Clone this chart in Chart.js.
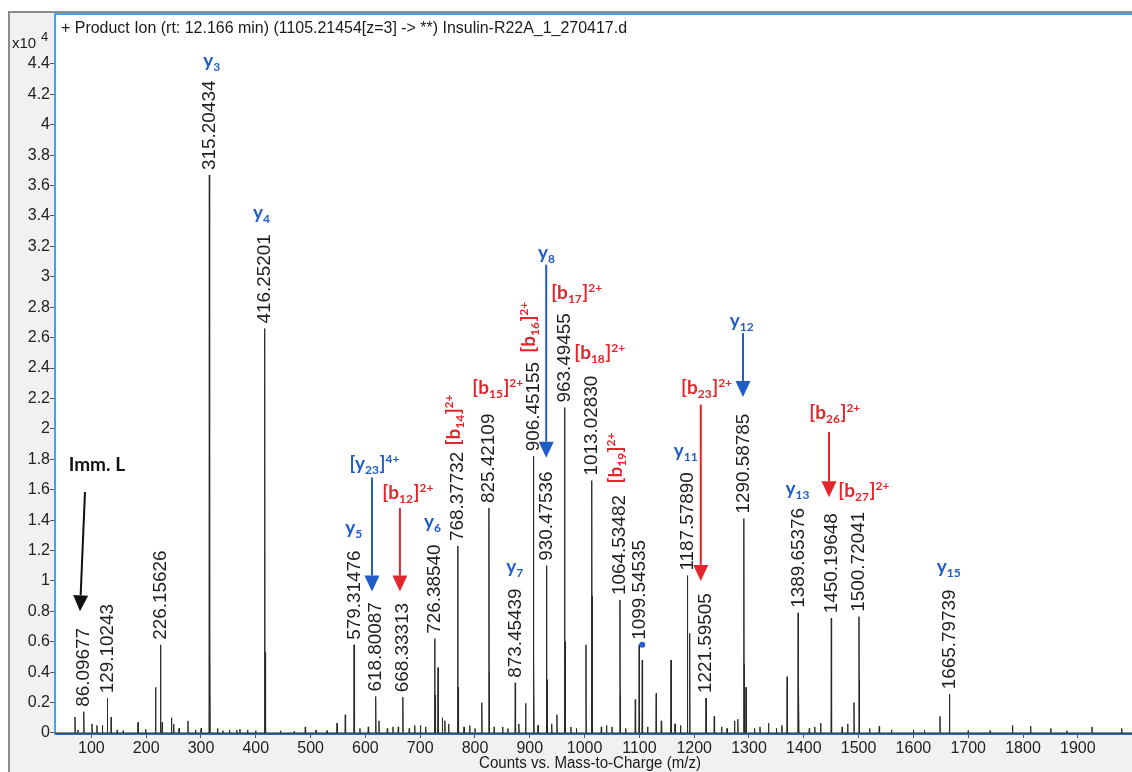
<!DOCTYPE html>
<html><head><meta charset="utf-8">
<script src="https://cdn.jsdelivr.net/npm/chart.js@4/dist/chart.umd.min.js"></script>
<style>html,body{margin:0;padding:0;background:#fff;}canvas{display:block;}</style>
</head><body>
<canvas id="c" width="1132" height="772"></canvas>
<script>
// ---------- data (intensity in counts x10^4, m/z) ----------
const labeledMz  = [86.09677,129.10243,226.15626,315.20434,416.25201,579.31476,618.80087,668.33313,726.38540,768.37732,825.42109,873.45439,906.45155,930.47536,963.49455,1013.02830,1064.53482,1099.54535,1187.57890,1221.59505,1290.58785,1389.65376,1450.19648,1500.72041,1665.79739];
const labeledInt = [0.14,0.228,0.58,3.67,2.66,0.58,0.24,0.235,0.62,1.23,1.48,0.33,1.82,1.10,2.14,1.66,0.875,0.58,1.035,0.23,1.41,0.79,0.755,0.765,0.255];
const labeledText = ['86.09677','129.10243','226.15626','315.20434','416.25201','579.31476','618.80087','668.33313','726.38540','768.37732','825.42109','873.45439','906.45155','930.47536','963.49455','1013.02830','1064.53482','1099.54535','1187.57890','1221.59505','1290.58785','1389.65376','1450.19648','1500.72041','1665.79739'];

const minorMz  = [70.07,75.5,101.07,110.07,120.08,136.08,147.11,158,185.13,199.1,217.13,229.2,246.1,250.2,260,276.2,290,300.2,316.2,330.2,340,352,365,371,385,400,417.25,445,470,490.3,510,530,548.3,563.3,580.3,590,605.3,624.8,640,650.3,660,680,690,700.4,710,727.4,732.6,740.4,745,752,769.4,780,790.4,800,812.4,826.4,835,850.4,860,880,892.4,907.45,915,931.5,940,949.5,964.5,975,985,1002.5,1013.53,1030.5,1040,1050,1065.5,1075,1092.5,1105.2,1115,1130.6,1140,1157.7,1165,1175,1191.8,1236.6,1250,1260,1273.6,1279.6,1291.6,1294.6,1310,1320,1335.6,1350,1360,1369.6,1390.65,1410,1420,1430.7,1450.7,1470,1480,1491.6,1501.7,1520,1537.7,1560,1600,1620,1648.5,1700,1740,1780.8,1813.8,1850.8,1880,1925.9,1979.9];
const minorInt = [0.105,0.02,0.06,0.05,0.05,0.105,0.02,0.015,0.07,0.025,0.30,0.07,0.10,0.06,0.03,0.08,0.02,0.03,0.66,0.03,0.015,0.02,0.02,0.025,0.02,0.015,0.53,0.015,0.01,0.04,0.02,0.015,0.065,0.12,0.20,0.03,0.04,0.08,0.03,0.04,0.04,0.03,0.05,0.05,0.04,0.25,0.43,0.10,0.08,0.06,0.30,0.04,0.05,0.03,0.20,0.40,0.04,0.04,0.03,0.06,0.195,0.50,0.05,0.35,0.06,0.12,0.60,0.04,0.03,0.58,0.90,0.04,0.05,0.04,0.25,0.03,0.22,0.48,0.04,0.26,0.08,0.48,0.06,0.05,0.656,0.11,0.04,0.03,0.08,0.09,0.45,0.30,0.03,0.04,0.065,0.03,0.05,0.37,0.30,0.03,0.04,0.065,0.30,0.04,0.06,0.20,0.35,0.03,0.045,0.02,0.02,0.02,0.11,0.015,0.015,0.05,0.045,0.03,0.015,0.04,0.03];

const precursorMz = [1105.21454];
const precursorInt = [0.58];

const ionText = ['y_{3}','y_{4}','y_{5}','[y_{23}]^{4+}','[b_{12}]^{2+}','y_{6}','[b_{14}]^{2+}','[b_{15}]^{2+}','[b_{16}]^{2+}','y_{8}','[b_{17}]^{2+}','[b_{18}]^{2+}','y_{7}','[b_{19}]^{2+}','y_{11}','[b_{23}]^{2+}','y_{12}','y_{13}','[b_{26}]^{2+}','[b_{27}]^{2+}','y_{15}','Imm. L'];
const ionMz  = [320,411,579,617,678,723,763,842,900,931,986,1028,873,1059,1185,1223,1287,1389,1457,1510,1665,110];
const ionInt = [4.41,3.41,1.34,1.76,1.57,1.38,2.06,2.26,2.67,3.15,2.89,2.49,1.085,1.81,1.85,2.26,2.70,1.60,2.10,1.585,1.085,1.757];
const ionRotated = [0,0,0,0,0,0,1,0,1,0,0,0,0,1,0,0,0,0,0,0,0,0];
const ionKind = ['y','y','y','y','b','y','b','b','b','y','b','b','y','b','y','b','y','y','b','b','y','k'];

const arrowMzFrom  = [88.3,612,663,930,1212,1289,1446];
const arrowMzTo    = [79.2,612,663,930,1212,1289,1446];
const arrowIntFrom = [1.585,1.68,1.48,3.08,2.16,2.63,1.98];
const arrowIntTo   = [0.80,0.93,0.93,1.81,1.0,2.21,1.55];
const arrowKind    = ['k','y','b','y','b','y','b'];

const xTicks = [100,200,300,400,500,600,700,800,900,1000,1100,1200,1300,1400,1500,1600,1700,1800,1900];
const yTicks = [0,0.2,0.4,0.6,0.8,1,1.2,1.4,1.6,1.8,2,2.2,2.4,2.6,2.8,3,3.2,3.4,3.6,3.8,4,4.2,4.4];
const yTickLabels = ['0','0.2','0.4','0.6','0.8','1','1.2','1.4','1.6','1.8','2','2.2','2.4','2.6','2.8','3','3.2','3.4','3.6','3.8','4','4.2','4.4'];

const titleText = '+ Product Ion (rt: 12.166 min) (1105.21454[z=3] -> **) Insulin-R22A_1_270417.d';
const xTitle = 'Counts vs. Mass-to-Charge (m/z)';

// ---------- build spectrum ----------
const allPeaks = labeledMz.map((m,i)=>[m,labeledInt[i]]).concat(minorMz.map((m,i)=>[m,minorInt[i]])).sort((a,b)=>a[0]-b[0]);
const X_MIN = 33.6, X_MAX = 1998.9, Y_MIN = -0.0066, Y_MAX = 4.735;
const spectrum = [{x:X_MIN,y:0}];
allPeaks.forEach(([m,h])=>{ spectrum.push({x:m-0.6,y:0},{x:m,y:h},{x:m+0.6,y:0}); });
spectrum.push({x:X_MAX,y:0});

const NARROW = "'Liberation Sans Narrow','Liberation Sans',Arial,sans-serif";
const SANS = "'Liberation Sans',Arial,sans-serif";
const ION = "Lato,'Open Sans',sans-serif";
const COL = {y:'#1f5cc8', b:'#e3262b', k:'#111111'};

function parseMarkup(s){
  const segs=[]; let i=0, buf='';
  while(i<s.length){
    if((s[i]==='_'||s[i]==='^') && s[i+1]==='{'){
      if(buf){segs.push({t:buf,k:'n'});buf='';}
      const end=s.indexOf('}',i);
      segs.push({t:s.slice(i+2,end),k:s[i]==='_'?'sub':'sup'});
      i=end+1;
    } else { buf+=s[i]; i++; }
  }
  if(buf) segs.push({t:buf,k:'n'});
  return segs;
}

function drawIon(ctx, text, cx, cy, rotated, color){
  const segs=parseMarkup(text);
  const fN='bold 19px '+ION, fS='bold 12px '+ION;
  let w=0;
  segs.forEach(s=>{ctx.font=s.k==='n'?fN:fS; s.w=ctx.measureText(s.t).width; w+=s.w+(s.k==='n'?0:0.5);});
  ctx.save();
  ctx.translate(cx,cy);
  if(rotated) ctx.rotate(-Math.PI/2);
  ctx.fillStyle=color; ctx.textBaseline='alphabetic'; ctx.textAlign='left';
  let x=-w/2; const base=5;
  segs.forEach(s=>{
    ctx.font=s.k==='n'?fN:fS;
    const dy = s.k==='sub'?4:(s.k==='sup'?-7:0);
    ctx.fillText(s.t,x,base+dy);
    x+=s.w+(s.k==='n'?0:0.5);
  });
  ctx.restore();
}

const decor = {
  id:'decor',
  beforeDraw(chart){
    const ctx=chart.ctx, a=chart.chartArea, W=chart.width, H=chart.height;
    ctx.save();
    ctx.fillStyle='#ffffff'; ctx.fillRect(0,0,W,H);
    ctx.fillStyle='#f1f1f1'; ctx.fillRect(8,12,W-8,H-12);
    ctx.strokeStyle='#8c8c8c'; ctx.lineWidth=2;
    ctx.beginPath(); ctx.moveTo(9,H); ctx.lineTo(9,12); ctx.lineTo(W,12); ctx.stroke();
    ctx.fillStyle='#ffffff'; ctx.fillRect(a.left,a.top,W-a.left,a.bottom-a.top);
    ctx.strokeStyle='#4aa0ea'; ctx.lineWidth=2;
    ctx.beginPath(); ctx.moveTo(a.left,a.top+1); ctx.lineTo(W,a.top+1); ctx.stroke();
    ctx.restore();
  },
  afterDraw(chart){
    const ctx=chart.ctx, xs=chart.scales.x, ys=chart.scales.y;
    ctx.save();
    // title
    ctx.fillStyle='#1a1a1a'; ctx.textBaseline='middle'; ctx.textAlign='left';
    ctx.font='16px '+NARROW;
    ctx.fillText(titleText,61,29,566);
    // exponent
    ctx.font='15px '+NARROW; ctx.fillText('x10',12,44,26);
    ctx.font='13px '+NARROW; ctx.fillText('4',41,37);
    // x title
    ctx.font='16px '+NARROW; ctx.textAlign='center';
    ctx.fillText(xTitle,590,764,222);
    // peak labels
    ctx.font='18px '+SANS; ctx.fillStyle='#1e1e1e';
    labeledMz.forEach((m,i)=>{
      const px=xs.getPixelForValue(m), py=ys.getPixelForValue(labeledInt[i]);
      ctx.save(); ctx.translate(px+0.5,py-5); ctx.rotate(-Math.PI/2); ctx.scale(1.05,1);
      ctx.textAlign='left'; ctx.textBaseline='middle';
      ctx.fillText(labeledText[i],0,0); ctx.restore();
    });
    // arrows
    arrowMzFrom.forEach((m,i)=>{
      const x1=xs.getPixelForValue(m), y1=ys.getPixelForValue(arrowIntFrom[i]);
      const x2=xs.getPixelForValue(arrowMzTo[i]), y2=ys.getPixelForValue(arrowIntTo[i]);
      const c=COL[arrowKind[i]];
      const ang=Math.atan2(y2-y1,x2-x1), L=16, hw=7.5;
      const bx=x2-L*Math.cos(ang), by=y2-L*Math.sin(ang);
      ctx.strokeStyle=c; ctx.fillStyle=c; ctx.lineWidth=2;
      ctx.beginPath(); ctx.moveTo(x1,y1); ctx.lineTo(bx,by); ctx.stroke();
      ctx.beginPath(); ctx.moveTo(x2,y2);
      ctx.lineTo(bx+hw*Math.sin(ang),by-hw*Math.cos(ang));
      ctx.lineTo(bx-hw*Math.sin(ang),by+hw*Math.cos(ang));
      ctx.closePath(); ctx.fill();
    });
    // ion labels
    ionText.forEach((t,i)=>{
      drawIon(ctx,t,xs.getPixelForValue(ionMz[i]),ys.getPixelForValue(ionInt[i]),ionRotated[i]===1,COL[ionKind[i]]);
    });
    ctx.restore();
  }
};

new Chart(document.getElementById('c'),{
  type:'line',
  data:{datasets:[
    {data:spectrum,borderColor:'#2a2a2a',borderWidth:1,pointRadius:0,pointHoverRadius:0,tension:0,fill:false,order:2},
    {type:'scatter',data:precursorMz.map((m,i)=>({x:m,y:precursorInt[i]})),pointRadius:3,pointHoverRadius:3,pointBackgroundColor:'#2a5cd0',pointBorderWidth:0,order:1}
  ]},
  options:{
    responsive:false, devicePixelRatio:1, animation:false,
    layout:{autoPadding:false,padding:{top:13,left:0,right:0,bottom:0}},
    plugins:{legend:{display:false},tooltip:{enabled:false},title:{display:false}},
    scales:{
      x:{type:'linear',min:X_MIN,max:X_MAX,
        afterBuildTicks:s=>{s.ticks=xTicks.map(v=>({value:v}));},
        afterFit:s=>{s.height=38;},
        ticks:{font:{family:NARROW,size:16},color:'#222',padding:1,maxRotation:0,autoSkip:false,callback:v=>String(v)},
        grid:{display:true,drawOnChartArea:false,drawTicks:true,tickLength:4,color:'#555'},
        border:{display:true,color:'#2d6cb5',width:2}
      },
      y:{type:'linear',min:Y_MIN,max:Y_MAX,
        afterBuildTicks:s=>{s.ticks=yTicks.map(v=>({value:v}));},
        afterFit:s=>{s.width=55;},
        ticks:{font:{family:NARROW,size:16},color:'#222',padding:0,autoSkip:false,callback:(v,i)=>yTickLabels[i]},
        grid:{display:true,drawOnChartArea:false,drawTicks:true,tickLength:5,color:'#555'},
        border:{display:true,color:'#4aa0ea',width:2}
      }
    }
  },
  plugins:[decor]
});
</script>
</body></html>
